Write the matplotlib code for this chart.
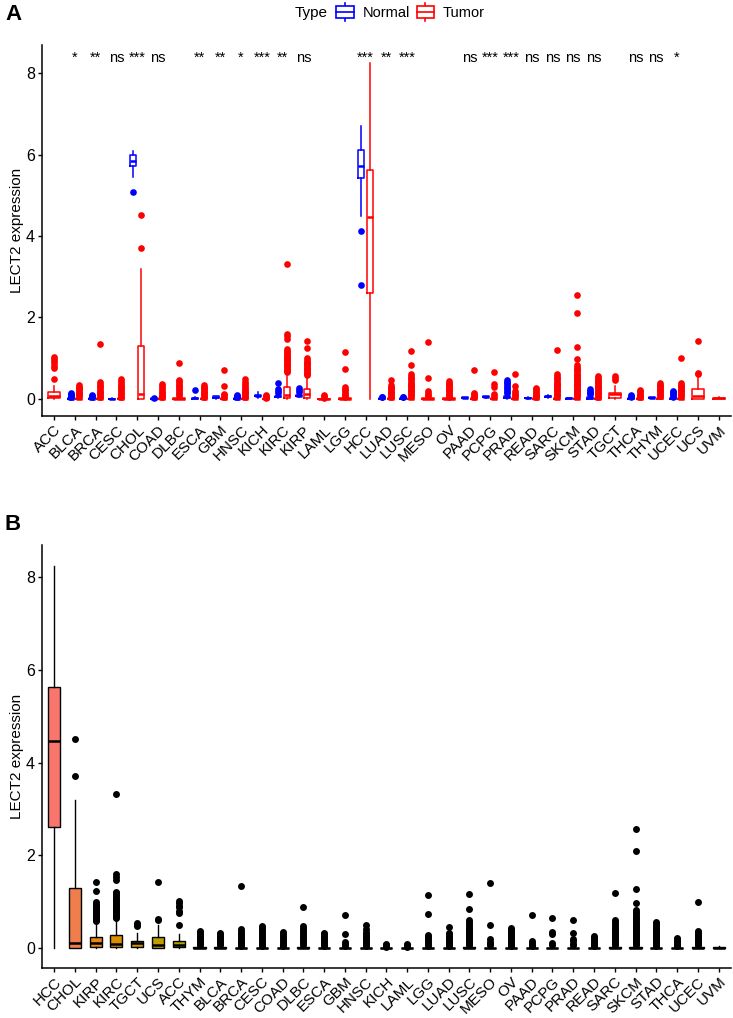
import numpy as np
import matplotlib
matplotlib.use('Agg')
import matplotlib.pyplot as plt
from matplotlib.lines import Line2D
from matplotlib.patches import Rectangle
from matplotlib.legend_handler import HandlerBase

plt.rcParams['font.family'] = ['Liberation Sans', 'DejaVu Sans']

# ---- data ----
cancers = ['ACC', 'BLCA', 'BRCA', 'CESC', 'CHOL', 'COAD', 'DLBC', 'ESCA', 'GBM', 'HNSC',
           'KICH', 'KIRC', 'KIRP', 'LAML', 'LGG', 'HCC', 'LUAD', 'LUSC', 'MESO', 'OV',
           'PAAD', 'PCPG', 'PRAD', 'READ', 'SARC', 'SKCM', 'STAD', 'TGCT', 'THCA', 'THYM',
           'UCEC', 'UCS', 'UVM']

signif = ['', '*', '**', 'ns', '***', 'ns', '', '**', '**', '*',
          '***', '**', 'ns', '', '', '***', '**', '***', '', '',
          'ns', '***', '***', 'ns', 'ns', 'ns', 'ns', '', 'ns', 'ns',
          '*', '', '']

# tumor box stats: q1, median, q3, lower whisker, upper whisker
t_q1 = [0.02, 0, 0, 0, 0, 0, 0, 0, 0, 0,
        0, 0.02, 0.02, 0, 0, 2.61, 0, 0, 0, 0,
        0, 0, 0, 0, 0, 0, 0, 0.03, 0, 0,
        0, 0, 0]
t_med = [0.08, 0, 0, 0, 0.115, 0, 0, 0, 0, 0,
         0, 0.09, 0.115, 0, 0, 4.46, 0, 0, 0, 0,
         0, 0, 0, 0, 0, 0, 0, 0.115, 0, 0.01,
         0, 0.06, 0.01]
t_q3 = [0.165, 0.02, 0.01, 0.01, 1.29, 0.01, 0.02, 0.01, 0.01, 0.01,
        0.005, 0.28, 0.245, 0.005, 0.01, 5.63, 0.01, 0.02, 0.01, 0.01,
        0.01, 0.01, 0.01, 0.01, 0.02, 0.02, 0.01, 0.15, 0.01, 0.02,
        0.02, 0.235, 0.02]
t_lo = [0] * 33
t_hi = [0.31, 0.05, 0.03, 0.03, 3.2, 0.02, 0.05, 0.03, 0.02, 0.03,
        0.01, 0.62, 0.55, 0.01, 0.03, 8.24, 0.03, 0.05, 0.03, 0.02,
        0.02, 0.03, 0.03, 0.02, 0.05, 0.05, 0.03, 0.32, 0.02, 0.05,
        0.05, 0.5, 0.05]
t_out = [
    [0.49, 0.75, 0.80, 0.88, 0.92, 0.97, 1.02],
    [0.06, 0.09, 0.12, 0.15, 0.18, 0.21, 0.24, 0.27, 0.30, 0.33],
    [0.05, 0.08, 0.11, 0.14, 0.17, 0.20, 0.24, 0.28, 0.32, 0.37, 0.42, 1.34],
    [0.05, 0.08, 0.11, 0.15, 0.19, 0.23, 0.27, 0.31, 0.35, 0.39, 0.43, 0.48],
    [3.71, 4.51],
    [0.04, 0.07, 0.10, 0.14, 0.18, 0.22, 0.26, 0.31, 0.36],
    [0.07, 0.11, 0.15, 0.19, 0.23, 0.27, 0.31, 0.35, 0.39, 0.43, 0.47, 0.88],
    [0.05, 0.08, 0.11, 0.14, 0.17, 0.20, 0.23, 0.26, 0.30, 0.33],
    [0.05, 0.09, 0.13, 0.31, 0.71],
    [0.05, 0.08, 0.11, 0.14, 0.17, 0.20, 0.23, 0.27, 0.31, 0.36, 0.42, 0.49],
    [0.03, 0.05, 0.07, 0.10],
    [0.65, 0.68, 0.71, 0.74, 0.77, 0.80, 0.83, 0.86, 0.89, 0.92, 0.95, 0.98, 1.01,
     1.04, 1.07, 1.10, 1.14, 1.18, 1.22, 1.47, 1.54, 1.60, 3.32],
    [0.58, 0.61, 0.64, 0.67, 0.70, 0.73, 0.76, 0.79, 0.82, 0.85, 0.88, 0.91, 0.95,
     1.00, 1.24, 1.43],
    [0.03, 0.06, 0.09],
    [0.05, 0.09, 0.13, 0.17, 0.21, 0.25, 0.28, 0.74, 1.14],
    [],
    [0.05, 0.08, 0.11, 0.14, 0.17, 0.20, 0.23, 0.26, 0.30, 0.33, 0.46],
    [0.07, 0.10, 0.13, 0.16, 0.19, 0.22, 0.25, 0.28, 0.31, 0.34, 0.37, 0.40, 0.44,
     0.48, 0.52, 0.56, 0.60, 0.84, 1.17],
    [0.06, 0.10, 0.14, 0.19, 0.50, 1.40],
    [0.04, 0.07, 0.10, 0.13, 0.16, 0.19, 0.22, 0.25, 0.28, 0.31, 0.34, 0.37, 0.40, 0.43],
    [0.04, 0.08, 0.12, 0.15, 0.71],
    [0.06, 0.12, 0.30, 0.36, 0.66],
    [0.06, 0.10, 0.15, 0.20, 0.32, 0.60],
    [0.04, 0.07, 0.10, 0.13, 0.16, 0.19, 0.23, 0.27],
    [0.07, 0.10, 0.13, 0.16, 0.19, 0.22, 0.25, 0.28, 0.31, 0.34, 0.37, 0.40, 0.44,
     0.48, 0.52, 0.56, 0.60, 1.20],
    [0.07, 0.10, 0.13, 0.16, 0.19, 0.22, 0.25, 0.28, 0.31, 0.34, 0.37, 0.40, 0.43,
     0.46, 0.49, 0.52, 0.55, 0.58, 0.62, 0.66, 0.70, 0.74, 0.78, 0.82, 0.97, 1.28,
     2.10, 2.56],
    [0.05, 0.08, 0.11, 0.14, 0.17, 0.20, 0.23, 0.26, 0.29, 0.32, 0.35, 0.38, 0.41,
     0.44, 0.48, 0.52, 0.56],
    [0.47, 0.50, 0.55],
    [0.04, 0.07, 0.10, 0.13, 0.16, 0.19, 0.22],
    [0.07, 0.10, 0.13, 0.16, 0.19, 0.22, 0.25, 0.28, 0.31, 0.34, 0.38],
    [0.07, 0.10, 0.13, 0.16, 0.19, 0.22, 0.25, 0.28, 0.31, 0.34, 0.38, 1.00],
    [0.60, 0.63, 1.42],
    [],
]

# normal box stats: cancer -> (q1, median, q3, lower whisker, upper whisker, outliers)
normal = {
    'BLCA': (0, 0, 0.01, 0, 0.02, [0.04, 0.07, 0.10, 0.13, 0.15]),
    'BRCA': (0, 0, 0.01, 0, 0.02, [0.04, 0.06, 0.08, 0.10]),
    'CESC': (0, 0, 0.005, 0, 0.01, []),
    'CHOL': (5.73, 5.85, 5.99, 5.46, 6.09, [5.09]),
    'COAD': (0, 0, 0.01, 0, 0.02, [0.03]),
    'ESCA': (0, 0.01, 0.02, 0, 0.04, [0.22]),
    'GBM': (0.02, 0.04, 0.06, 0, 0.08, []),
    'HNSC': (0, 0, 0.01, 0, 0.02, [0.04, 0.07, 0.10]),
    'KICH': (0.06, 0.08, 0.10, 0.01, 0.16, []),
    'KIRC': (0.04, 0.06, 0.08, 0.02, 0.10, [0.14, 0.20, 0.25, 0.40]),
    'KIRP': (0.06, 0.08, 0.10, 0.04, 0.13, [0.18, 0.22, 0.26]),
    'HCC': (5.42, 5.73, 6.11, 4.49, 6.70, [4.12, 2.80]),
    'LUAD': (0, 0.01, 0.02, 0, 0.03, [0.04, 0.05]),
    'LUSC': (0, 0.01, 0.02, 0, 0.03, [0.04, 0.05]),
    'PAAD': (0.02, 0.03, 0.04, 0.01, 0.05, []),
    'PCPG': (0.04, 0.05, 0.06, 0.03, 0.07, []),
    'PRAD': (0.02, 0.04, 0.06, 0, 0.10, [0.14, 0.18, 0.22, 0.26, 0.30, 0.34, 0.38, 0.42, 0.46]),
    'READ': (0.01, 0.02, 0.03, 0, 0.04, []),
    'SARC': (0.05, 0.06, 0.08, 0.03, 0.10, []),
    'SKCM': (0, 0.01, 0.02, 0, 0.03, []),
    'STAD': (0, 0.02, 0.04, 0, 0.08, [0.11, 0.14, 0.17, 0.20, 0.23]),
    'THCA': (0, 0.01, 0.02, 0, 0.03, [0.05, 0.08, 0.10]),
    'THYM': (0.02, 0.03, 0.04, 0.01, 0.05, []),
    'UCEC': (0, 0.01, 0.02, 0, 0.03, [0.05, 0.08, 0.11, 0.14, 0.17, 0.20]),
}

# order of panel B (tumor samples, by median)
order_b = ['HCC', 'CHOL', 'KIRP', 'KIRC', 'TGCT', 'UCS', 'ACC', 'THYM', 'BLCA', 'BRCA',
           'CESC', 'COAD', 'DLBC', 'ESCA', 'GBM', 'HNSC', 'KICH', 'LAML', 'LGG', 'LUAD',
           'LUSC', 'MESO', 'OV', 'PAAD', 'PCPG', 'PRAD', 'READ', 'SARC', 'SKCM', 'STAD',
           'THCA', 'UCEC', 'UVM']


def hue_pal(n, c=100.0, l=65.0):
    # ggplot2 default discrete palette (hcl, polar Luv)
    h = np.deg2rad(np.linspace(15, 375, n + 1)[:-1])
    Xn, Yn, Zn = 95.047, 100.0, 108.883
    un = 4 * Xn / (Xn + 15 * Yn + 3 * Zn)
    vn = 9 * Yn / (Xn + 15 * Yn + 3 * Zn)
    Y = Yn * ((l + 16) / 116) ** 3
    up = c * np.cos(h) / (13 * l) + un
    vp = c * np.sin(h) / (13 * l) + vn
    X = 9 * Y * up / (4 * vp)
    Z = -X / 3 - 5 * Y + 3 * Y / vp
    X, Y, Z = X / 100, np.full_like(X, Y / 100), Z / 100
    r = 3.2404542 * X - 1.5371385 * Y - 0.4985314 * Z
    g = -0.9692660 * X + 1.8760108 * Y + 0.0415560 * Z
    b = 0.0556434 * X - 0.2040259 * Y + 1.0572252 * Z
    rgb = np.stack([r, g, b], axis=1)
    rgb = np.where(rgb <= 0.0031308, 12.92 * rgb, 1.055 * np.clip(rgb, 0, None) ** (1 / 2.4) - 0.055)
    return np.clip(rgb, 0, 1)


def stat(q1, med, q3, lo, hi, out):
    return dict(q1=q1, med=med, q3=q3, whislo=lo, whishi=hi, fliers=np.array(out))


class BoxHandler(HandlerBase):
    def create_artists(self, legend, orig_handle, xdescent, ydescent, width, height,
                       fontsize, trans):
        col = orig_handle.get_color()
        cx = width / 2 - xdescent
        bw = width * 0.95
        y0 = -ydescent + height * 0.05
        h = height * 0.9
        arts = [
            Line2D([cx, cx], [y0 - h * 0.25, y0], color=col, lw=1.2, transform=trans),
            Line2D([cx, cx], [y0 + h, y0 + h * 1.25], color=col, lw=1.2, transform=trans),
            Rectangle((cx - bw / 2, y0), bw, h, fc='white', ec=col, lw=1.2, transform=trans),
            Line2D([cx - bw / 2, cx + bw / 2], [y0 + h / 2] * 2, color=col, lw=1.2,
                   transform=trans),
        ]
        return arts


def style_axis(ax, labels):
    for s in ['top', 'right']:
        ax.spines[s].set_visible(False)
    for s in ['left', 'bottom']:
        ax.spines[s].set_linewidth(1.1)
    ax.set_xlim(-0.6, len(labels) - 0.4)
    ax.set_ylim(-0.42, 8.69)
    ax.set_yticks([0, 2, 4, 6, 8])
    ax.set_xticks(range(len(labels)))
    ax.set_xticklabels(labels, rotation=45, ha='right', va='top', rotation_mode='anchor',
                       fontsize=11)
    ax.tick_params(axis='y', labelsize=11.5, length=3, width=1.0, colors='black', pad=2)
    ax.tick_params(axis='x', length=3, width=1.0, colors='black', pad=2)
    ax.set_ylabel('LECT2 expression', fontsize=11, labelpad=1)


fig = plt.figure(figsize=(7.33, 10.18), dpi=100)
axA = fig.add_axes([0.0569, 0.5914, 0.9404, 0.3644])
axB = fig.add_axes([0.0569, 0.0494, 0.9404, 0.4152])

# ---- panel A ----
n_stats, n_pos, n_w = [], [], []
t_stats, t_pos, t_w = [], [], []
for i, name in enumerate(cancers):
    t = stat(t_q1[i], t_med[i], t_q3[i], t_lo[i], t_hi[i], t_out[i])
    if name in normal:
        n_stats.append(stat(*normal[name]))
        n_pos.append(i - 0.2)
        n_w.append(0.29)
        t_pos.append(i + 0.2)
        t_w.append(0.29)
    else:
        t_pos.append(i)
        t_w.append(0.58)
    t_stats.append(t)

for st, pos, w, col in [(n_stats, n_pos, n_w, 'blue'), (t_stats, t_pos, t_w, 'red')]:
    axA.bxp(st, positions=pos, widths=w, showcaps=False, manage_ticks=False,
            boxprops=dict(color=col, lw=1.1),
            whiskerprops=dict(color=col, lw=1.1),
            medianprops=dict(color=col, lw=1.8),
            flierprops=dict(marker='o', markerfacecolor=col, markeredgecolor=col,
                            markersize=4.8, markeredgewidth=0, linestyle='none'))

for i, s in enumerate(signif):
    if s:
        axA.text(i, 8.27, s, ha='center', va='baseline', fontsize=10.5)

style_axis(axA, cancers)

# ---- panel B ----
fills = hue_pal(len(order_b))
b_stats = []
for name in order_b:
    i = cancers.index(name)
    b_stats.append(stat(t_q1[i], t_med[i], t_q3[i], t_lo[i], t_hi[i], t_out[i]))
res = axB.bxp(b_stats, positions=range(len(order_b)), widths=0.58, showcaps=False,
              manage_ticks=False, patch_artist=True,
              boxprops=dict(edgecolor='black', lw=1.0),
              whiskerprops=dict(color='black', lw=1.0),
              medianprops=dict(color='black', lw=1.8),
              flierprops=dict(marker='o', markerfacecolor='black', markeredgecolor='black',
                              markersize=5.0, markeredgewidth=0, linestyle='none'))
for box, fc in zip(res['boxes'], fills):
    box.set_facecolor(fc)
style_axis(axB, order_b)

# ---- legend and panel letters ----
fig.text(295 / 733, 1 - 13 / 1018, 'Type', fontsize=11, ha='left', va='center')
handles = [Line2D([], [], color='blue', label='Normal'), Line2D([], [], color='red', label='Tumor')]
fig.legend(handles=handles, handler_map={Line2D: BoxHandler()}, loc='center left',
           bbox_to_anchor=(336 / 733, 1 - 13 / 1018), ncol=2, frameon=False, fontsize=10.5,
           handlelength=1.25, handleheight=1.0, handletextpad=0.55, columnspacing=0.45,
           borderpad=0, borderaxespad=0)
fig.text(5 / 733, 1 - 15 / 1018, 'A', fontsize=16, fontweight='bold', ha='left', va='center')
fig.text(5 / 733, 1 - 525 / 1018, 'B', fontsize=16, fontweight='bold', ha='left', va='center')

fig.savefig('out.png', dpi=100)
plt.close(fig)
